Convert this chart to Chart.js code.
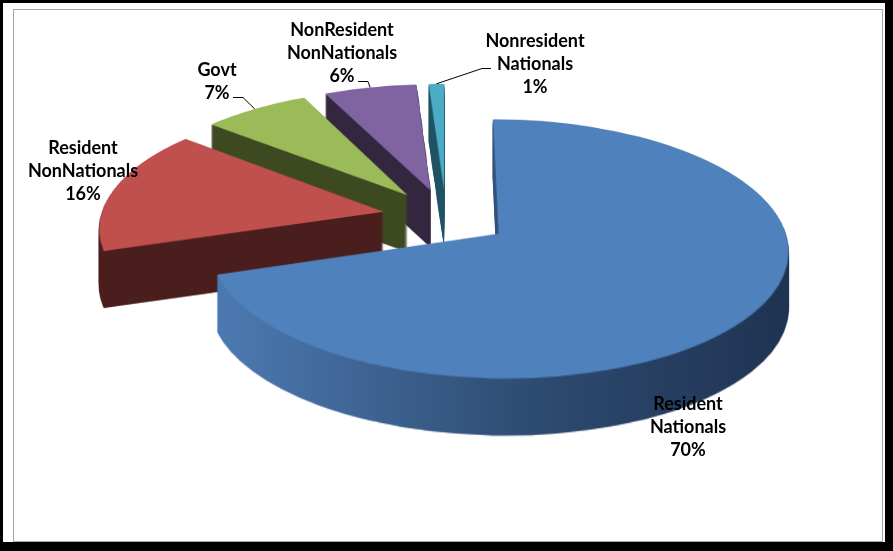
<!DOCTYPE html>
<html>
<head>
<meta charset="utf-8">
<script src="https://cdn.jsdelivr.net/npm/chart.js@4.4.0/dist/chart.umd.min.js"></script>
<style>
    html, body { margin: 0; padding: 0; background: #000; overflow: hidden; }
    #frame { position: absolute; left: 3px; top: 3px; width: 882px; height: 539px; background: #fff; }
    #inner { position: absolute; left: 13px; top: 9px; width: 870px; height: 533px; border: 1px solid #a6a6a6; box-sizing: border-box; }
    #pie { position: absolute; left: 0; top: 0; }
</style>
</head>
<body>
<div id="frame"></div>
<div id="inner"></div>
<canvas id="pie" width="893" height="551"></canvas>

<script>
    // chart data
    var categories = ['Resident Nationals', 'Resident NonNationals', 'Govt', 'NonResident NonNationals', 'Nonresident Nationals'];
    var shares = [70, 16, 7, 6, 1];

    // colours (top face / side wall)
    var topColors = ['#4f81bd', '#c0504d', '#9bbb59', '#8064a2', '#4bacc6'];
    var sideColors = [null, '#4b1e1e', '#3d4a21', '#33263f', '#1f5363'];

    // 3d look: centre, radii of the ellipse, perspective, thickness, explode
    var CX = 446, CY = 217, RX = 283, RY = 124, PERSP = 0.115, DEPTH = 57, EXPLODE = 0.226;

    // label spots (first line centre) and leader lines [x, y, elbowX]
    var labelSpots = [[688, 404], [83, 148], [217, 70], [342, 30], [535, 41]];
    var leaders = [null, null, [233, 97, 243], [358, 81, 368], [491, 68, 482]];

    function mid(arc) {
        return (arc.startAngle + arc.endAngle) / 2;
    }

    // chart coords -> flattened (tilted) coords, slice pushed out
    function place(c, arc) {
        var R = arc.outerRadius, m = mid(arc);
        c.translate(CX, CY);
        c.scale(RX / R, RY / R);
        c.translate(-arc.x, -arc.y);
        c.translate(Math.cos(m) * EXPLODE * R, Math.sin(m) * EXPLODE * R);
    }

    // flattened coords -> screen with perspective
    function warp(sx, sy) {
        var v = (sy - CY) / RY;
        var w = v / (1 - PERSP * v);
        return [CX + (sx - CX) * (1 + PERSP * w), CY + RY * w];
    }

    function warpImage(src, dst, W, H) {
        for (var Y = 0; Y < H; Y++) {
            var w = (Y - CY) / RY, f = 1 + PERSP * w;
            var sy = CY + RY * w / f, sh = 1 / (f * f);
            if (sy < 0 || sy + sh > H) continue;
            dst.drawImage(src, 0, sy, W, sh, CX - CX * f, Y, W * f, 1);
        }
    }

    function sideFill(c, i) {
        if (sideColors[i]) return sideColors[i];
        var g = c.createLinearGradient(230, 0, 800, 0);
        g.addColorStop(0, '#4b78af');
        g.addColorStop(0.53, '#2e4b71');
        g.addColorStop(1, '#1e3250');
        return g;
    }

    function newCanvas(w, h) {
        var cv = document.createElement('canvas');
        cv.width = w;
        cv.height = h;
        return cv;
    }

    function drawLabels(ctx, arcs) {
        var total = shares.reduce(function (a, b) { return a + b; }, 0);
        ctx.save();
        ctx.fillStyle = '#000';
        ctx.font = 'bold 18px Lato';
        ctx.textAlign = 'center';
        ctx.textBaseline = 'middle';
        arcs.forEach(function (arc, i) {
            var lines = categories[i].split(' ');
            lines.push(Math.round(shares[i] / total * 100) + '%');
            lines.forEach(function (t, k) {
                ctx.fillText(t, labelSpots[i][0], labelSpots[i][1] + k * 23);
            });
            var ld = leaders[i];
            if (ld) {
                var m = mid(arc);
                var sx = CX + Math.cos(m) * (1 + EXPLODE) * RX;
                var sy = CY + Math.sin(m) * (1 + EXPLODE) * RY;
                var end = warp(sx, sy);
                ctx.strokeStyle = '#000';
                ctx.lineWidth = 1;
                ctx.beginPath();
                ctx.moveTo(ld[0], ld[1] + 0.5);
                ctx.lineTo(ld[2], ld[1] + 0.5);
                ctx.lineTo(end[0], end[1]);
                ctx.stroke();
            }
        });
        ctx.restore();
    }

    var pie3d = {
        id: 'pie3d',
        beforeDatasetsDraw: function (chart) {
            var arcs = chart.getDatasetMeta(0).data;
            var W = chart.width, H = chart.height, ctx = chart.ctx;
            var flat = newCanvas(W, H), fc = flat.getContext('2d');
            var face = newCanvas(W, H), wc = face.getContext('2d');
            var side = newCanvas(W, H), sc = side.getContext('2d');

            // back slices first
            var order = arcs.map(function (a, i) { return i; });
            order.sort(function (i, j) { return Math.sin(mid(arcs[i])) - Math.sin(mid(arcs[j])); });

            order.forEach(function (i) {
                var arc = arcs[i];
                fc.clearRect(0, 0, W, H);
                fc.save();
                place(fc, arc);
                arc.draw(fc);
                fc.restore();

                wc.clearRect(0, 0, W, H);
                warpImage(flat, wc, W, H);

                // extrude the top face downwards for the wall
                sc.clearRect(0, 0, W, H);
                for (var d = 1; d <= DEPTH; d++) sc.drawImage(face, 0, d);
                sc.globalCompositeOperation = 'source-in';
                sc.fillStyle = sideFill(sc, i);
                sc.fillRect(0, 0, W, H);
                sc.globalCompositeOperation = 'source-over';

                ctx.drawImage(side, 0, 0);
                ctx.drawImage(face, 0, 0);
            });

            drawLabels(ctx, arcs);
            return false;
        }
    };

    var chart = new Chart(document.getElementById('pie'), {
        type: 'pie',
        data: {
            labels: categories,
            datasets: [{
                data: shares,
                backgroundColor: topColors,
                borderWidth: 0,
                radius: RX
            }]
        },
        options: {
            responsive: false,
            animation: false,
            events: [],
            plugins: {
                legend: { display: false },
                tooltip: { enabled: false }
            }
        },
        plugins: [pie3d]
    });
</script>
</body>
</html>
